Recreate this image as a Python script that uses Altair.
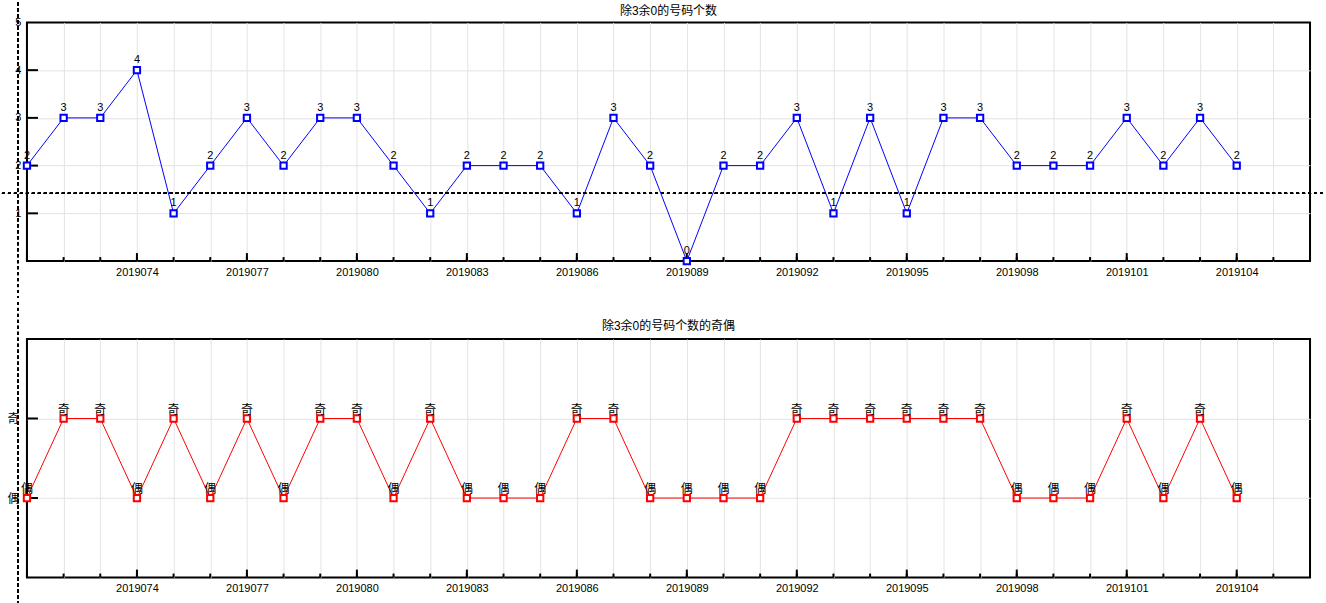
import altair as alt
import pandas as pd

periods = [2019071, 2019072, 2019073, 2019074, 2019075, 2019076, 2019077, 2019078,
           2019079, 2019080, 2019081, 2019082, 2019083, 2019084, 2019085, 2019086,
           2019087, 2019088, 2019089, 2019090, 2019091, 2019092, 2019093, 2019094,
           2019095, 2019096, 2019097, 2019098, 2019099, 2019100, 2019101, 2019102,
           2019103, 2019104]
counts = [2, 3, 3, 4, 1, 2, 3, 2, 3, 3, 2, 1, 2, 2, 2, 1, 3, 2, 0, 2, 2, 3, 1, 3,
          1, 3, 3, 2, 2, 2, 3, 2, 3, 2]

x_domain = [2019071, 2019106]
x_grid_values = list(range(2019071, 2019107))
x_major_values = list(range(2019071, 2019107, 3))
x_label_values = [2019074, 2019077, 2019080, 2019083, 2019086, 2019089, 2019092,
                  2019095, 2019098, 2019101, 2019104]
top_y_domain = [0, 5]
top_y_labels = [1, 2, 3, 4, 5]
top_y_ticks = [1, 2, 3, 4]
bottom_y_domain = [-1, 2]
bottom_y_ticks = [0, 1]
parity_names = ["偶", "奇"]   # code 0, code 1
cursor_value = 1.42

title_top = "除3余0的号码个数"
title_bottom = "除3余0的号码个数的奇偶"

FONT = "Liberation Sans, Noto Sans CJK SC, sans-serif"
W, H = 1285, 239
GAP = 37
TOP_EXT = 20
LEFT_EXT = 25
GRID = "#e3e3e3"

df = pd.DataFrame({"period": periods, "count": counts})
df["code"] = df["count"] % 2
df["parity"] = df["code"].map(lambda c: parity_names[c])

df_minor = pd.DataFrame({"period": x_grid_values})
df_major = pd.DataFrame({"period": x_major_values})

label_list = ",".join(str(v) for v in x_label_values)
x_label_expr = f"indexof([{label_list}], datum.value) >= 0 ? format(datum.value, 'd') : ''"


def edge_hidden(lo, hi):
    return {"condition": {"test": f"datum.value <= {lo} || datum.value >= {hi}", "value": 0},
            "value": 1}


X_AXIS = alt.Axis(values=x_grid_values, labelExpr=x_label_expr, grid=True,
                  gridColor=GRID, gridWidth=1,
                  gridOpacity=edge_hidden(x_domain[0], x_domain[1]),
                  ticks=False, domain=False,
                  labelPadding=5, labelFont=FONT, labelFontSize=11,
                  labelColor="black", labelOverlap=False, labelFlush=False,
                  title=None)


def x_enc():
    return alt.X("period:Q", scale=alt.Scale(domain=x_domain, nice=False, zero=False),
                 axis=X_AXIS)


TOP_Y_AXIS = alt.Axis(values=top_y_labels, grid=True, gridColor=GRID,
                      gridOpacity=edge_hidden(top_y_domain[0], top_y_domain[1]),
                      ticks=False, domain=False, labelPadding=6,
                      labelFont=FONT, labelFontSize=11, labelColor="black",
                      labelFlush=False, labelOverlap=False, title=None)
BOT_Y_AXIS = alt.Axis(values=bottom_y_ticks, grid=True, gridColor=GRID,
                      ticks=False, domain=False, labelPadding=8,
                      labelExpr=f"datum.value == 1 ? '{parity_names[1]}' : '{parity_names[0]}'",
                      labelFont=FONT, labelFontSize=12, labelColor="black",
                      labelFlush=False, labelOverlap=False, title=None)


def top_y():
    return alt.Y("count:Q", scale=alt.Scale(domain=top_y_domain, nice=False, zero=False),
                 axis=TOP_Y_AXIS)


def bot_y():
    return alt.Y("code:Q", scale=alt.Scale(domain=bottom_y_domain, nice=False, zero=False),
                 axis=BOT_Y_AXIS)


def tick_layers(y_enc, y_field, y_tick_vals):
    minor = alt.Chart(df_minor).mark_rule(color="black", strokeWidth=2).encode(
        x=x_enc(), y=alt.value(H), y2=alt.value(H - 4))
    major = alt.Chart(df_major).mark_rule(color="black", strokeWidth=2).encode(
        x=x_enc(), y=alt.value(H), y2=alt.value(H - 8))
    yt = alt.Chart(pd.DataFrame({y_field: y_tick_vals})).mark_rule(
        color="black", strokeWidth=2).encode(
        y=y_enc(), x=alt.value(0), x2=alt.value(11))
    return [minor, major, yt]


def cursor_v(y0, y1):
    return alt.Chart(df).mark_rule(color="black", strokeDash=[3, 3], strokeWidth=1).encode(
        x=alt.value(-9), y=alt.value(y0), y2=alt.value(y1))


# ---------- top panel ----------
top_base = alt.Chart(df).encode(x=x_enc(), y=top_y())
top_line = top_base.mark_line(color="#0000ff", strokeWidth=1)
top_pts = top_base.mark_point(shape="square", size=40, filled=True, fill="white",
                              stroke="#0000ff", strokeWidth=2, opacity=1)
top_txt = top_base.mark_text(dy=-7, baseline="alphabetic", font=FONT, fontSize=11,
                             color="black").encode(text="count:Q")
top_hcursor = alt.Chart(df).mark_rule(color="black", strokeDash=[3, 3], strokeWidth=1).encode(
    y=alt.datum(cursor_value), x=alt.value(-LEFT_EXT), x2=alt.value(1299))

top = alt.layer(top_line, *tick_layers(top_y, "count", top_y_ticks),
                top_pts, top_txt, cursor_v(-TOP_EXT, H + GAP), top_hcursor).properties(
    width=W, height=H,
    title=alt.TitleParams(title_top, font=FONT, fontSize=12, fontWeight="normal",
                          color="black", offset=-16, anchor="middle", frame="group"))

# ---------- bottom panel ----------
bot_base = alt.Chart(df).encode(x=x_enc(), y=bot_y())
bot_line = bot_base.mark_line(color="#ff0000", strokeWidth=1)
bot_pts = bot_base.mark_point(shape="square", size=40, filled=True, fill="white",
                              stroke="#ff0000", strokeWidth=2, opacity=1)
bot_txt = bot_base.mark_text(dy=-5, baseline="alphabetic", font=FONT, fontSize=12,
                             color="black").encode(text="parity:N")

bottom = alt.layer(bot_line, *tick_layers(bot_y, "code", bottom_y_ticks),
                   bot_pts, bot_txt, cursor_v(-GAP, 265)).properties(
    width=W, height=H,
    title=alt.TitleParams(title_bottom, font=FONT, fontSize=12, fontWeight="normal",
                          color="black", offset=-32, anchor="middle", frame="group"))

chart = alt.vconcat(top, bottom, spacing=0).properties(
    padding=0, background="white"
).configure_view(stroke="black", strokeWidth=2)

chart.save("out.html", embed_options={"renderer": "svg", "actions": False})
